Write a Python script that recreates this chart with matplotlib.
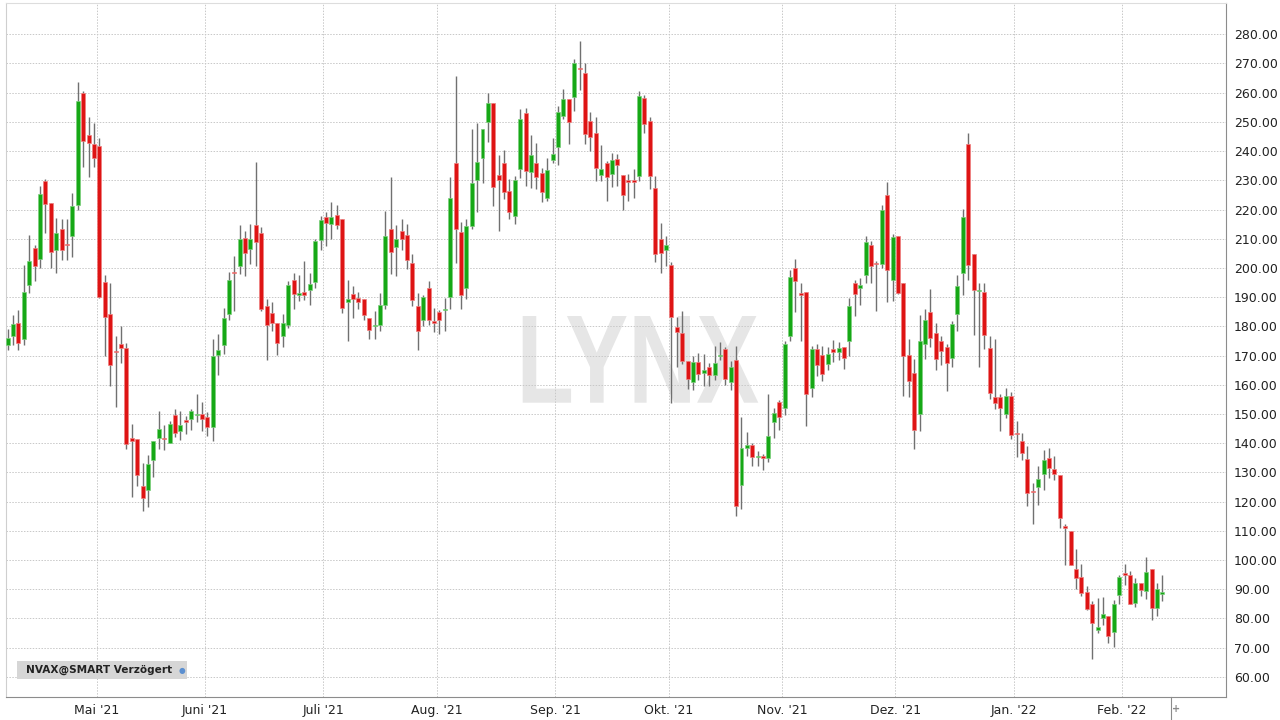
import numpy as np
import matplotlib.pyplot as plt
from matplotlib.patches import Rectangle, PathPatch
from matplotlib.textpath import TextPath
from matplotlib.font_manager import FontProperties
from matplotlib.transforms import Affine2D, blended_transform_factory

# NVAX daily candles, 8 Apr 2021 - 10 Feb 2022
opens = [
    173.5, 176.6, 181.1, 175.7, 194.0, 206.9, 202.9, 229.8, 222.3, 206.1,
    213.2, 208.2, 210.9, 221.6, 260.0, 245.6, 242.4, 241.7, 195.3, 184.3,
    171.6, 174.0, 172.6, 141.7, 141.4, 125.2, 123.9, 134.2, 141.7, 141.9,
    140.0, 149.8, 144.3, 148.0, 148.4, 149.6, 149.9, 148.9, 145.7, 170.1,
    173.5, 184.1, 198.6, 200.5, 210.3, 206.5, 214.6, 211.8, 187.1, 184.4,
    181.0, 176.6, 180.6, 195.7, 190.8, 191.7, 192.3, 195.1, 209.4, 217.6,
    214.9, 218.1, 216.7, 188.3, 191.1, 189.8, 189.2, 182.9, 180.0, 180.6,
    187.3, 213.3, 207.1, 212.6, 211.3, 201.8, 187.1, 182.0, 193.0, 181.7,
    184.8, 185.5, 190.0, 235.8, 212.4, 193.0, 214.3, 230.0, 237.5, 250.0,
    256.6, 231.8, 235.9, 226.2, 217.8, 234.0, 252.9, 232.9, 235.8, 232.6,
    224.1, 237.1, 241.3, 252.0, 258.0, 258.4, 268.5, 266.8, 250.3, 246.1,
    231.7, 235.8, 232.1, 237.2, 231.8, 230.0, 230.0, 231.5, 258.2, 250.2,
    227.3, 209.8, 206.1, 200.9, 179.8, 177.7, 168.3, 161.1, 167.8, 164.0,
    166.1, 163.5, 169.7, 172.3, 161.1, 168.6, 125.7, 138.5, 139.4, 135.2,
    135.7, 134.9, 147.4, 154.0, 152.0, 176.6, 200.1, 191.3, 191.7, 159.0,
    172.1, 170.1, 167.1, 172.1, 171.3, 173.0, 175.0, 194.9, 193.2, 197.6,
    207.7, 201.8, 201.4, 224.8, 195.9, 210.9, 194.9, 170.1, 163.9, 150.1,
    174.0, 184.8, 177.7, 174.9, 173.0, 169.2, 184.3, 198.2, 242.3, 204.9,
    192.0, 191.7, 172.6, 155.8, 155.8, 150.0, 156.2, 143.4, 140.9, 134.7,
    123.6, 124.9, 129.5, 135.0, 131.0, 129.0, 111.5, 110.1, 97.0, 94.3,
    89.0, 84.8, 76.2, 80.2, 81.0, 75.4, 88.0, 95.4, 95.0, 85.4,
    92.2, 89.3, 96.8, 83.5, 88.4,
]
highs = [
    179.0, 184.0, 185.7, 200.9, 211.4, 207.8, 228.0, 230.3, 222.3, 217.2,
    216.9, 216.9, 225.5, 263.7, 260.7, 251.7, 249.6, 244.5, 197.5, 194.9,
    176.6, 180.2, 174.3, 146.6, 141.4, 133.2, 136.1, 140.6, 151.1, 146.3,
    147.5, 151.7, 150.9, 149.4, 151.7, 157.0, 154.2, 150.7, 175.8, 177.5,
    186.3, 198.7, 204.1, 214.6, 212.6, 214.9, 236.3, 214.1, 189.2, 188.3,
    181.0, 184.1, 195.5, 198.4, 197.7, 202.2, 198.4, 209.8, 217.8, 219.0,
    222.5, 221.6, 216.7, 196.0, 193.7, 191.7, 189.2, 182.9, 185.2, 191.3,
    219.6, 231.1, 214.7, 216.9, 215.0, 204.9, 191.5, 190.9, 195.5, 186.3,
    185.7, 189.8, 231.1, 265.8, 215.8, 216.9, 247.7, 249.5, 247.5, 260.0,
    256.6, 238.7, 240.5, 230.3, 231.5, 254.3, 254.9, 245.6, 242.6, 234.3,
    237.7, 244.6, 255.5, 261.4, 258.0, 271.6, 277.6, 270.2, 253.5, 251.5,
    242.2, 236.6, 239.5, 238.9, 231.8, 232.0, 234.0, 260.6, 259.1, 251.5,
    231.5, 215.5, 211.1, 202.0, 183.1, 185.1, 168.3, 170.0, 170.9, 170.7,
    167.3, 173.2, 174.6, 173.0, 168.0, 173.4, 148.8, 143.7, 140.2, 137.3,
    136.3, 156.7, 152.0, 154.9, 174.9, 199.3, 203.0, 195.0, 191.7, 173.2,
    174.1, 173.2, 172.9, 175.3, 174.6, 173.0, 189.8, 196.0, 196.6, 210.9,
    209.2, 202.4, 221.4, 229.4, 211.7, 210.9, 194.9, 175.7, 168.9, 184.0,
    185.9, 192.9, 181.1, 176.8, 174.1, 181.7, 197.7, 220.2, 246.1, 204.9,
    194.8, 194.8, 176.6, 175.7, 156.9, 158.9, 157.4, 147.5, 143.5, 139.2,
    126.4, 132.1, 137.6, 138.4, 135.6, 129.0, 112.4, 110.1, 103.6, 98.5,
    91.0, 85.9, 87.1, 87.4, 81.0, 86.3, 94.8, 98.8, 96.2, 93.9,
    92.2, 101.1, 96.8, 92.2, 95.0,
]
lows = [
    172.0, 173.7, 171.8, 173.7, 191.5, 195.5, 199.9, 212.0, 199.9, 198.2,
    202.6, 202.7, 203.8, 219.8, 234.5, 231.0, 234.5, 189.6, 169.7, 159.6,
    152.3, 167.4, 138.0, 121.5, 125.2, 116.8, 118.0, 128.4, 138.0, 137.5,
    140.0, 142.0, 141.1, 143.1, 144.6, 147.3, 144.0, 142.5, 140.8, 163.2,
    170.7, 182.3, 185.2, 197.9, 197.1, 201.3, 200.5, 185.2, 168.6, 178.4,
    170.3, 172.9, 179.5, 186.1, 188.6, 188.9, 187.4, 193.1, 206.1, 207.6,
    209.8, 213.3, 184.6, 174.9, 182.8, 185.9, 182.0, 175.8, 175.8, 178.4,
    185.8, 197.8, 197.3, 206.3, 199.8, 187.1, 172.0, 180.0, 180.6, 178.0,
    177.3, 178.3, 185.8, 201.8, 185.8, 189.4, 213.2, 219.2, 229.0, 243.2,
    221.3, 212.6, 223.5, 216.7, 215.2, 230.9, 228.0, 227.4, 227.0, 222.4,
    222.9, 235.9, 235.2, 250.9, 242.4, 253.7, 260.9, 242.4, 240.0, 229.8,
    229.8, 223.0, 227.8, 227.9, 219.8, 222.8, 224.0, 229.8, 246.3, 227.1,
    201.9, 198.2, 200.7, 153.9, 166.1, 167.2, 158.5, 158.2, 161.7, 159.5,
    159.7, 161.7, 168.6, 160.0, 158.3, 114.9, 117.5, 135.5, 132.1, 132.1,
    130.7, 133.7, 141.7, 144.5, 149.8, 174.9, 184.9, 174.9, 146.0, 155.9,
    163.0, 161.4, 165.0, 167.7, 168.5, 165.3, 169.8, 183.5, 187.3, 194.9,
    194.9, 185.3, 200.1, 188.3, 188.7, 191.0, 156.3, 155.9, 138.0, 144.1,
    168.9, 172.9, 165.0, 166.9, 157.9, 166.1, 178.3, 190.9, 195.7, 176.9,
    166.1, 172.3, 155.1, 151.6, 144.1, 148.6, 141.3, 135.3, 134.2, 118.4,
    112.4, 119.0, 124.0, 128.1, 127.4, 111.0, 98.2, 98.3, 90.2, 87.7,
    82.8, 66.2, 75.1, 77.6, 71.5, 70.3, 84.8, 91.6, 84.8, 84.0,
    87.7, 86.7, 79.5, 80.8, 85.9,
]
closes = [
    176.0, 180.8, 174.3, 191.7, 202.2, 200.7, 225.2, 222.0, 205.4, 211.8,
    206.0, 207.8, 221.1, 257.0, 243.3, 242.9, 237.6, 190.1, 183.1, 166.8,
    171.2, 172.5, 139.8, 140.6, 129.2, 121.1, 132.9, 140.6, 144.9, 141.5,
    146.7, 143.5, 146.3, 147.4, 151.1, 150.0, 148.2, 145.7, 169.9, 171.8,
    182.9, 195.8, 198.2, 210.0, 205.2, 209.8, 208.9, 185.8, 180.6, 181.0,
    174.3, 181.0, 194.0, 191.1, 191.3, 190.7, 194.4, 209.2, 216.4, 215.4,
    217.6, 214.7, 186.4, 189.2, 189.5, 188.3, 183.8, 178.9, 180.4, 187.3,
    211.0, 205.5, 210.0, 210.0, 202.6, 189.0, 178.3, 190.0, 182.1, 181.2,
    182.1, 186.0, 223.8, 213.2, 190.9, 214.3, 229.2, 236.1, 247.5, 256.4,
    227.8, 230.1, 226.1, 219.0, 230.0, 251.1, 233.2, 238.6, 231.0, 226.1,
    233.5, 238.9, 253.4, 257.8, 250.0, 270.2, 268.0, 245.7, 244.9, 234.3,
    234.0, 231.3, 236.9, 235.2, 225.0, 229.6, 229.6, 258.9, 249.2, 231.6,
    204.8, 205.2, 207.7, 183.1, 178.0, 168.0, 162.1, 167.8, 163.8, 164.9,
    163.2, 167.5, 170.3, 162.0, 166.1, 118.5, 138.3, 139.4, 135.4, 135.6,
    134.9, 142.5, 150.3, 149.0, 174.1, 197.0, 195.5, 190.9, 157.0, 172.1,
    166.6, 163.8, 170.6, 171.3, 172.6, 169.1, 187.0, 191.1, 194.1, 208.9,
    200.7, 201.4, 219.8, 199.2, 210.7, 191.3, 170.0, 161.3, 144.5, 174.9,
    182.3, 176.0, 168.9, 171.4, 167.5, 180.9, 193.7, 217.5, 201.1, 192.5,
    192.4, 177.2, 157.3, 153.9, 152.1, 156.2, 142.9, 143.0, 136.7, 122.9,
    123.2, 127.9, 134.4, 131.4, 129.5, 114.4, 111.1, 98.3, 93.7, 88.8,
    83.1, 78.3, 77.0, 81.4, 74.0, 84.8, 94.2, 95.0, 85.1, 92.2,
    89.9, 95.9, 83.5, 90.1, 88.9,
]

# first trading day of each month (candle index) and its label
month_start = [17, 37, 59, 80, 102, 123, 144, 165, 187, 207]
month_labels = ["Mai '21", "Juni '21", "Juli '21", "Aug. '21", "Sep. '21",
                "Okt. '21", "Nov. '21", "Dez. '21", "Jan. '22", "Feb. '22"]

o = np.array(opens)
h = np.array(highs)
l = np.array(lows)
c = np.array(closes)
x = np.arange(len(o))
up = c >= o

fig = plt.figure(figsize=(12.8, 7.2), dpi=100)
ax = fig.add_axes([6 / 1280, 23 / 720, 1219.5 / 1280, 694 / 720])

# watermark, behind grid and candles
tp = TextPath((0, 0), "LYNX", size=100,
              prop=FontProperties(family="Liberation Sans", weight="bold"))
bb = tp.get_extents()
wx0, wy0, ww, wh = 522.7 / 1280, 1 - 402.7 / 720, 235.6 / 1280, 86.7 / 720
tr = (Affine2D().translate(-bb.x0, -bb.y0)
      .scale(ww / bb.width, wh / bb.height).translate(wx0, wy0) + fig.transFigure)
ax.add_patch(PathPatch(tp, transform=tr, facecolor="#e6e6e6",
                       edgecolor="none", zorder=0.3))

# wicks
ax.vlines(x, l, h, color="#707070", linewidth=1.0, zorder=3)

# bodies
body = np.maximum(np.abs(c - o), 0.45)
bottom = np.where(np.abs(c - o) < 0.45, (o + c) / 2 - 0.225, np.minimum(o, c))
ax.bar(x[up], body[up], bottom=bottom[up], width=0.74, color="#16a816",
       edgecolor="#7ccf7c", linewidth=0.5, zorder=4)
ax.bar(x[~up], body[~up], bottom=bottom[~up], width=0.74, color="#de1414",
       edgecolor="#ef8080", linewidth=0.5, zorder=4)

ax.set_xlim(-0.31, 225.7)
ax.set_ylim(53.1, 290.7)

ax.set_yticks(np.arange(60, 281, 10))
ax.yaxis.tick_right()
ax.yaxis.set_major_formatter(plt.FuncFormatter(lambda v, p: f"{v:.2f}"))
ax.set_xticks([m - 0.5 for m in month_start])
ax.set_xticklabels(month_labels)
ax.tick_params(axis="both", length=0, labelsize=9, labelcolor="#222222")
ax.tick_params(axis="y", pad=6)
ax.tick_params(axis="x", pad=5)
ax.grid(True, color="#c8c8c8", linestyle=(0, (1.5, 1.5)), linewidth=0.7)
ax.set_axisbelow(True)

ax.spines["right"].set_color("#8c8c8c")
ax.spines["bottom"].set_color("#8c8c8c")
ax.spines["top"].set_color("#dddddd")
ax.spines["left"].set_color("#cfcfcf")

# end-of-data marker below the axis
trb = blended_transform_factory(ax.transData, ax.transAxes)
ax.plot([len(c) + 0.6] * 2, [0, -0.035], color="#8c8c8c", linewidth=0.8,
        transform=trb, clip_on=False)
ax.text(len(c) + 1.6, -0.017, "+", transform=trb, fontsize=7, color="#888888",
        ha="center", va="center", fontweight="bold")

# symbol box
fig.patches.append(Rectangle((17.3 / 1280, 1 - 679.3 / 720), 170 / 1280, 18.6 / 720,
                             transform=fig.transFigure, facecolor="#d6d6d6",
                             edgecolor="none", zorder=5))
fig.text(26 / 1280, 1 - 670 / 720, "NVAX@SMART Verzögert", fontsize=7.6,
         fontweight="bold", color="#222222", va="center", ha="left", zorder=6)
fig.text(181.5 / 1280, 1 - 670 / 720, "●", fontsize=5.5, color="#5b8fd0",
         va="center", ha="center", zorder=6)

fig.savefig("out.png", dpi=100)
